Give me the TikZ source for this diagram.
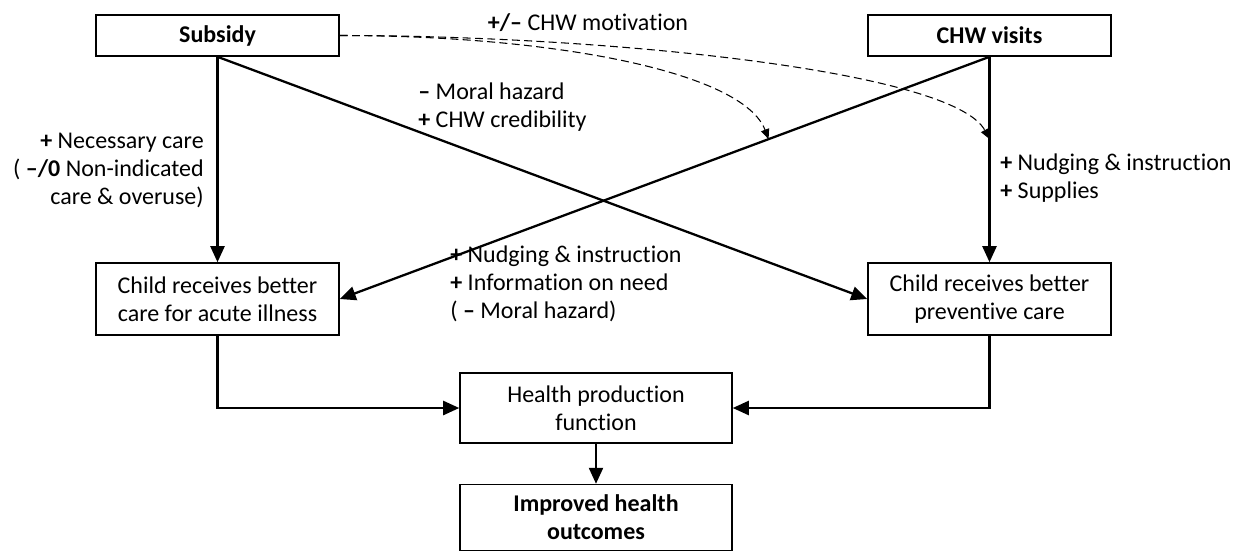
\documentclass[tikz,border=0pt]{standalone}
\usepackage{fontspec}
\setmainfont{Carlito}[Ligatures=NoCommon]
\usetikzlibrary{arrows.meta,positioning}
\tikzset{
    box/.style={rectangle,draw,line width=0.9pt,align=center,inner sep=0pt,font=\fontsize{13.66}{15.94}\selectfont},
    keybox/.style={box,font=\fontsize{13.66}{15.94}\selectfont\bfseries},
    note/.style={inner sep=0pt,font=\fontsize{13.66}{15.94}\selectfont},
    pre/.style={-{Triangle[length=3.2mm,width=2.8mm]},line width=1.3pt},
    mod/.style={-{Triangle[length=2mm,width=1.7mm]},line width=0.6pt,dash pattern=on 4.5pt off 2.5pt}
}

\begin{document}
\begin{tikzpicture}[x=0.02cm,y=-0.02cm]
    \useasboundingbox (0,0) rectangle (1238,552);

    \node[keybox,minimum width=4.86cm,minimum height=0.82cm] (subsidy) at (217.5,35.5) {Subsidy};
    \node[keybox,minimum width=4.86cm,minimum height=0.82cm] (chw) at (989.5,35.5) {CHW visits};

    \node[box,minimum width=4.86cm,minimum height=1.44cm] (acute) at (217.5,299) {Child receives better\\care for acute illness};
    \node[box,minimum width=4.86cm,minimum height=1.44cm] (prev) at (989.5,299) {Child receives better\\preventive care};

    \node[box,minimum width=5.44cm,minimum height=1.40cm] (hpf) at (596,408) {Health production\\function};
    \node[keybox,minimum width=5.44cm,minimum height=1.32cm,below=0.8cm of hpf] (outcome) {Improved health\\outcomes};

    \draw[pre] (subsidy) -- (acute);
    \draw[pre] (subsidy.south) -- (prev.west);
    \draw[pre] (chw) -- (prev);
    \draw[pre] (chw.south) -- (acute.east);
    \draw[pre] (acute.south) |- (hpf.west);
    \draw[pre] (prev.south) |- (hpf.east);
    \draw[pre] (hpf) -- (outcome);

    \path (chw.south) -- (acute.east) coordinate[pos=0.34] (hitacute);
    \path (chw.south) -- (prev.north) coordinate[pos=0.40] (hitprev);
    \draw[mod] (subsidy.east) .. controls +(211,0) and +(-26,-68) .. (hitacute);
    \draw[mod] (subsidy.east) .. controls +(261,0) and +(-37,-69) .. (hitprev);

    \node[note] (motiv) at (588,23) {\textbf{+/–} CHW motivation};
    \node[note,anchor=west,align=left] (hazard) at (418,107.5) {\textbf{–} Moral hazard\\\textbf{+} CHW credibility};
    \node[note,anchor=east,align=right] (necess) at (204,170) {\textbf{+} Necessary care\\( \textbf{–/0} Non-indicated\\care \& overuse)};
    \node[note,anchor=west,align=left] (nudgeprev) at (1000,178) {\textbf{+} Nudging \& instruction\\\textbf{+} Supplies};
    \node[note,anchor=west,align=left] (nudgeacute) at (450,284) {\textbf{+} Nudging \& instruction\\\textbf{+} Information on need\\( \textbf{–} Moral hazard)};

\end{tikzpicture}
\end{document}
